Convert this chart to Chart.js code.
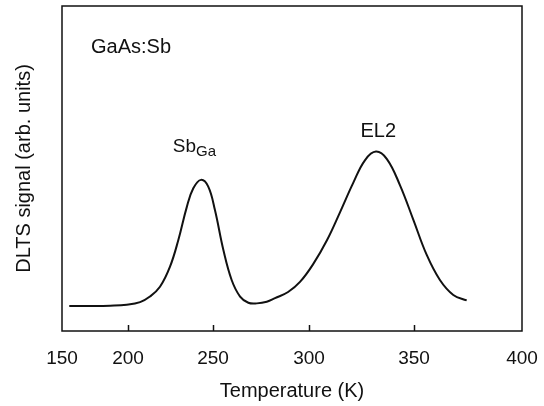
<!DOCTYPE html>
<html>
<head>
<meta charset="utf-8">
<script src="https://cdn.jsdelivr.net/npm/chart.js@4.4.0/dist/chart.umd.min.js"></script>
<style>
  html, body { margin: 0; padding: 0; background: #fff; }
  #wrap { width: 544px; height: 406px; }
</style>
</head>
<body>
<div id="wrap"><canvas id="graph" width="544" height="406"></canvas></div>
<script>
// values
var temperature = [155.5, 173.7, 186.4, 199.0, 207.1, 212.9, 218.8, 224.7, 229.6, 234.6,
    238.4, 242.9, 247.2, 251.0, 255.4, 259.7, 264.1, 268.4, 272.8, 278.0,
    282.3, 289.1, 295.3, 301.9, 308.6, 314.8, 321.0, 326.7, 331.9, 337.1,
    343.3, 349.7, 355.9, 362.0, 368.2, 374.4]
var signal = [7.7, 7.7, 7.8, 8.1, 8.9, 10.6, 13.6, 19.8, 28.0, 38.2,
    43.9, 46.5, 44.4, 37.2, 24.9, 15.7, 10.6, 8.7, 8.5, 9.0,
    10.1, 12.0, 15.1, 20.5, 28.0, 36.6, 45.5, 52.6, 55.2, 52.9,
    44.9, 34.2, 23.4, 15.7, 11.1, 9.4]
var xTicks = [150, 200, 250, 300, 350, 400]

// the printed temperature axis is not evenly spaced, so the scale is warped piecewise
var warpFrac = [0, 0.1435, 0.3283, 0.537, 0.7652, 1]

function toFrac(v) {
    for (let i = 0; i < xTicks.length - 1; i++) {
        if (v <= xTicks[i + 1] || i == xTicks.length - 2) {
            let t = (v - xTicks[i]) / (xTicks[i + 1] - xTicks[i])
            return warpFrac[i] + t * (warpFrac[i + 1] - warpFrac[i])
        }
    }
}
function fromFrac(f) {
    for (let i = 0; i < warpFrac.length - 1; i++) {
        if (f <= warpFrac[i + 1] || i == warpFrac.length - 2) {
            let t = (f - warpFrac[i]) / (warpFrac[i + 1] - warpFrac[i])
            return xTicks[i] + t * (xTicks[i + 1] - xTicks[i])
        }
    }
}

var Base = Chart.LinearScale || Chart.registry.getScale('linear')
class WarpScale extends Base {
    getPixelForValue(value) {
        return this.getPixelForDecimal(toFrac(value))
    }
    getValueForPixel(pixel) {
        return fromFrac(this.getDecimalForPixel(pixel))
    }
}
WarpScale.id = 'warp'
WarpScale.defaults = Base.defaults
Chart.register(WarpScale)

var frame = {
    id: 'frame',
    afterDraw(chart) {
        var c = chart.ctx, a = chart.chartArea
        var xs = chart.scales.x, ys = chart.scales.y
        c.save()
        c.strokeStyle = '#111'
        c.lineWidth = 1.5
        c.strokeRect(a.left, a.top, a.right - a.left, a.bottom - a.top)
        // inward tick marks
        for (let i = 1; i < xTicks.length - 1; i++) {
            let px = Math.round(xs.getPixelForValue(xTicks[i])) + 0.5
            c.beginPath()
            c.moveTo(px, a.bottom)
            c.lineTo(px, a.bottom - 6)
            c.stroke()
        }
        c.fillStyle = '#111'
        c.textBaseline = 'alphabetic'
        c.textAlign = 'left'
        c.font = '20px "Liberation Sans", Arial, sans-serif'
        c.fillText('GaAs:Sb', a.left + 29, a.top + 47)
        c.textAlign = 'center'
        c.fillText('EL2', xs.getPixelForValue(333), ys.getPixelForValue(59.8))
        c.textAlign = 'left'
        var sx = xs.getPixelForValue(226.3), sy = ys.getPixelForValue(55.2)
        c.font = '19px "Liberation Sans", Arial, sans-serif'
        c.fillText('Sb', sx, sy)
        var w = c.measureText('Sb').width
        c.font = '15px "Liberation Sans", Arial, sans-serif'
        c.fillText('Ga', sx + w, sy + 4.5)
        c.restore()
    }
}

var ctx = document.getElementById("graph").getContext("2d")
var graph = new Chart(ctx, {
    type: 'line',
    data: {
        datasets: [{
            data: temperature.map((t, i) => ({x: t, y: signal[i]})),
            borderColor: '#111',
            borderWidth: 2,
            pointRadius: 0,
            fill: false,
            tension: 0.4
        }]
    },
    options: {
        responsive: false,
        animation: false,
        layout: { padding: { top: 6, right: 22, left: 0, bottom: 0 } },
        plugins: { legend: { display: false }, tooltip: { enabled: false } },
        scales: {
            x: {
                type: 'warp',
                min: 150,
                max: 400,
                grid: { display: false },
                border: { display: false },
                afterBuildTicks: s => { s.ticks = xTicks.map(v => ({value: v})) },
                afterFit: s => { s.height = 75; s.paddingLeft = 0; s.paddingRight = 0 },
                ticks: {
                    color: '#111',
                    padding: 8,
                    maxRotation: 0,
                    autoSkip: false,
                    font: { size: 19, family: '"Liberation Sans", Arial, sans-serif' }
                },
                title: {
                    display: true,
                    text: 'Temperature (K)',
                    color: '#111',
                    padding: { top: 0, bottom: 3 },
                    font: { size: 20, family: '"Liberation Sans", Arial, sans-serif' }
                }
            },
            y: {
                min: 0,
                max: 100,
                grid: { display: false },
                border: { display: false },
                ticks: { display: false },
                afterFit: s => { s.width = 62 },
                title: {
                    display: true,
                    text: 'DLTS signal (arb. units)',
                    color: '#111',
                    padding: { top: 12, bottom: 0 },
                    font: { size: 20, family: '"Liberation Sans", Arial, sans-serif' }
                }
            }
        }
    },
    plugins: [frame]
})
</script>
</body>
</html>
